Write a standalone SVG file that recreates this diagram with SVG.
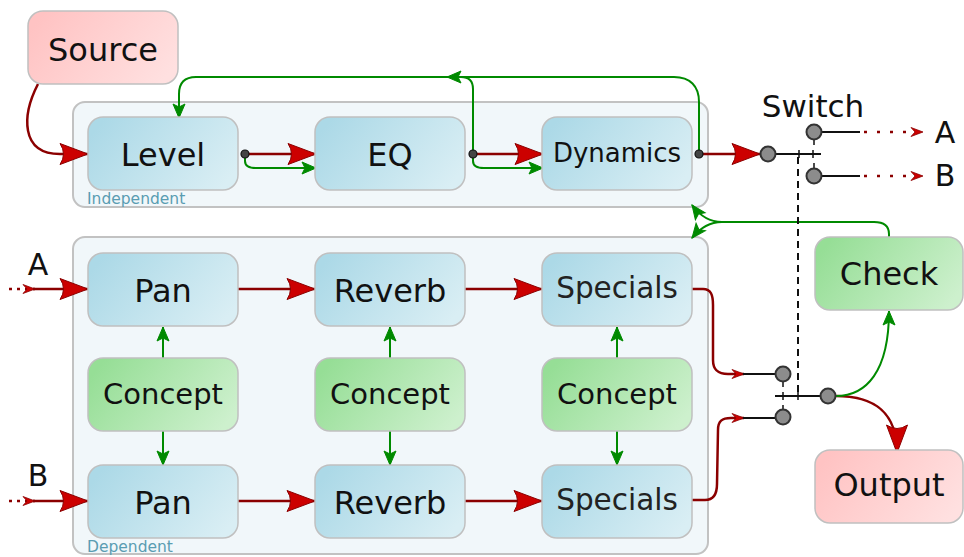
<svg xmlns="http://www.w3.org/2000/svg" width="964" height="557" viewBox="0 0 964 557">
  <defs>
    <linearGradient id="gBlue" x1="0" y1="0.3" x2="1" y2="0.7">
      <stop offset="0" stop-color="#acd9e7"/>
      <stop offset="1" stop-color="#d9eef4"/>
    </linearGradient>
    <linearGradient id="gGreen" x1="0" y1="0.3" x2="1" y2="0.7">
      <stop offset="0" stop-color="#96de96"/>
      <stop offset="1" stop-color="#cdf0cd"/>
    </linearGradient>
    <linearGradient id="gPink" x1="0" y1="0.3" x2="1" y2="0.7">
      <stop offset="0" stop-color="#ffc3c3"/>
      <stop offset="1" stop-color="#ffe0e0"/>
    </linearGradient>
    <marker id="bigRed" markerUnits="userSpaceOnUse" viewBox="-30 -12 32 24" markerWidth="32" markerHeight="24" refX="0" refY="0" orient="auto">
      <path d="M0,0 L-28,-10.5 Q-21,0 -28,10.5 Z" fill="#cc0000" stroke="#8b0000" stroke-width="1"/>
    </marker>
    <marker id="smallRed" markerUnits="userSpaceOnUse" viewBox="-14 -6 16 12" markerWidth="16" markerHeight="12" refX="0" refY="0" orient="auto">
      <path d="M0,0 L-12,-4.5 L-8,0 L-12,4.5 Z" fill="#cc0000" stroke="#8b0000" stroke-width="0.8"/>
    </marker>
    <marker id="green" markerUnits="userSpaceOnUse" viewBox="-16 -8 18 16" markerWidth="18" markerHeight="16" refX="0" refY="0" orient="auto">
      <path d="M0,0 L-14,-6 L-11,0 L-14,6 Z" fill="#008a00" stroke="#008a00" stroke-width="1"/>
    </marker>
  </defs>
  <style>
    .cont { fill: #f1f7fa; stroke: #c2c2c2; stroke-width: 2; }
    .node rect { stroke: #c0c0c0; stroke-width: 1.5; }
    .blue rect { fill: url(#gBlue); }
    .grn rect { fill: url(#gGreen); }
    .pink rect { fill: url(#gPink); }
    text { font-family: "DejaVu Sans", Verdana, sans-serif; fill: #111; text-anchor: middle; }
    .lbl { font-size: 32px; }
    .clbl { font-size: 15.5px; fill: #5a9db2; text-anchor: start; }
    .red { fill: none; stroke: #8b0000; stroke-width: 2.5; }
    .grnl { fill: none; stroke: #008a00; stroke-width: 2; }
    .blk { fill: none; stroke: #111; stroke-width: 2; }
    .tick { stroke: #111; stroke-width: 1.5; }
    .pin { fill: #8c8c8c; stroke: #333; stroke-width: 2; }
    .dot { fill: #444; stroke: #111; stroke-width: 1.2; }
  </style>

  <!-- containers -->
  <g id="independent">
    <rect class="cont" x="73" y="102" width="635" height="105" rx="12"/>
    <text class="clbl" x="87" y="204">Independent</text>
  </g>
  <g id="dependent">
    <rect class="cont" x="73" y="237" width="635" height="317" rx="12"/>
    <text class="clbl" x="87" y="552">Dependent</text>
  </g>

  <!-- connectors -->
  <g id="connectors">
    <!-- signal path (red) -->
    <path class="red" d="M38,84 C22,115 20,154 60,154 L88,154" marker-end="url(#bigRed)"/>
    <path class="red" d="M245,154 L316,154" marker-end="url(#bigRed)"/>
    <path class="red" d="M473,154 L543,154" marker-end="url(#bigRed)"/>
    <path class="red" d="M699,154 L760,154" marker-end="url(#bigRed)"/>
    <path class="red" d="M238,289 L315,289" marker-end="url(#bigRed)"/>
    <path class="red" d="M465,289 L542,289" marker-end="url(#bigRed)"/>
    <path class="red" d="M238,501 L315,501" marker-end="url(#bigRed)"/>
    <path class="red" d="M465,501 L542,501" marker-end="url(#bigRed)"/>

    <!-- inputs A / B -->
    <path class="red" d="M9,289 L35,289" stroke-dasharray="3 5" marker-end="url(#smallRed)"/>
    <path class="red" d="M33,289 L88,289" marker-end="url(#bigRed)"/>
    <path class="red" d="M9,501 L35,501" stroke-dasharray="3 5" marker-end="url(#smallRed)"/>
    <path class="red" d="M33,501 L88,501" marker-end="url(#bigRed)"/>

    <!-- switch outputs A / B -->
    <path class="blk" d="M814,132 L860,132"/>
    <path class="blk" d="M814,176 L860,176"/>
    <path class="red" d="M864,132 L923,132" stroke-dasharray="3 10" marker-end="url(#smallRed)"/>
    <path class="red" d="M864,176 L923,176" stroke-dasharray="3 10" marker-end="url(#smallRed)"/>

    <!-- specials into lower switch -->
    <path class="red" d="M692,289 L703,289 C711,289 713,295 713,305 L713,360 C713,370 718,374 728,374 L744,374" marker-end="url(#smallRed)"/>
    <path class="red" d="M692,500 L705,500 C714,500 717,494 717,484 L718,430 C718,421 722,418 731,418 L744,418" marker-end="url(#smallRed)"/>
    <path class="blk" d="M743,374 L783,374"/>
    <path class="blk" d="M743,418 L783,418"/>

    <!-- lower switch out -->
    <path class="red" d="M836,396 C872,396 897,410 897,453" marker-end="url(#bigRed)"/>
    <path class="grnl" d="M836,396 C866,396 889,372 889,311" marker-end="url(#green)"/>

    <!-- control path (green) -->
    <path class="grnl" d="M699,154 L699,102 C699,86 690,77 674,77 L196,77 C185,77 179,83 179,94 L179,118" marker-end="url(#green)"/>
    <path class="grnl" d="M473,154 L473,89 C473,81 469,77 461,77 L447,77" marker-end="url(#green)"/>
    <path class="grnl" d="M245,154 L245,161 C245,166 249,168 256,168 L316,168" marker-end="url(#green)"/>
    <path class="grnl" d="M473,154 L473,161 C473,166 477,168 484,168 L543,168" marker-end="url(#green)"/>
    <path class="grnl" d="M889,237 L889,234 C889,226 884,222 874,222 L722,222 C709,222 700,216 692,205" marker-end="url(#green)"/>
    <path class="grnl" d="M722,222 C709,222 700,228 692,238" marker-end="url(#green)"/>

    <path class="grnl" d="M163,358 L163,327" marker-end="url(#green)"/>
    <path class="grnl" d="M390,358 L390,327" marker-end="url(#green)"/>
    <path class="grnl" d="M617,358 L617,327" marker-end="url(#green)"/>
    <path class="grnl" d="M163,431 L163,465" marker-end="url(#green)"/>
    <path class="grnl" d="M390,431 L390,465" marker-end="url(#green)"/>
    <path class="grnl" d="M617,431 L617,465" marker-end="url(#green)"/>

    <!-- switch linkage -->
    <path d="M798,157 L798,394" fill="none" stroke="#111" stroke-width="2" stroke-dasharray="7 5"/>
  </g>

  <!-- nodes -->
  <g id="source" class="node pink"><rect x="28" y="11" width="150" height="73" rx="15"/><text class="lbl" x="103" y="61">Source</text></g>
  <g id="level" class="node blue"><rect x="88" y="117" width="150" height="73" rx="15"/><text class="lbl" x="163" y="166">Level</text></g>
  <g id="eq" class="node blue"><rect x="315" y="117" width="150" height="73" rx="15"/><text class="lbl" x="390" y="166">EQ</text></g>
  <g id="dynamics" class="node blue"><rect x="542" y="117" width="150" height="73" rx="15"/><text x="617" y="162" style="font-size:26px">Dynamics</text></g>

  <g id="panA" class="node blue"><rect x="88" y="253" width="150" height="73" rx="15"/><text class="lbl" x="163" y="302">Pan</text></g>
  <g id="reverbA" class="node blue"><rect x="315" y="253" width="150" height="73" rx="15"/><text class="lbl" x="390" y="302">Reverb</text></g>
  <g id="specialsA" class="node blue"><rect x="542" y="253" width="150" height="73" rx="15"/><text x="617" y="298" style="font-size:29.5px;fill:#222">Specials</text></g>

  <g id="conceptPan" class="node grn"><rect x="88" y="358" width="150" height="73" rx="15"/><text x="163" y="404" style="font-size:29px">Concept</text></g>
  <g id="conceptReverb" class="node grn"><rect x="315" y="358" width="150" height="73" rx="15"/><text x="390" y="404" style="font-size:29px">Concept</text></g>
  <g id="conceptSpecials" class="node grn"><rect x="542" y="358" width="150" height="73" rx="15"/><text x="617" y="404" style="font-size:29px">Concept</text></g>

  <g id="panB" class="node blue"><rect x="88" y="465" width="150" height="73" rx="15"/><text class="lbl" x="163" y="514">Pan</text></g>
  <g id="reverbB" class="node blue"><rect x="315" y="465" width="150" height="73" rx="15"/><text class="lbl" x="390" y="514">Reverb</text></g>
  <g id="specialsB" class="node blue"><rect x="542" y="465" width="150" height="73" rx="15"/><text x="617" y="510" style="font-size:29.5px;fill:#222">Specials</text></g>

  <g id="check" class="node grn"><rect x="815" y="237" width="148" height="73" rx="15"/><text class="lbl" x="889" y="285">Check</text></g>
  <g id="output" class="node pink"><rect x="815" y="450" width="148" height="73" rx="15"/><text class="lbl" x="889" y="496">Output</text></g>

  <!-- upper switch -->
  <g id="switchTop">
    <text class="lbl" x="813" y="117" style="font-size:31px">Switch</text>
    <path class="blk" d="M768,154 L821,154"/>
    <path class="tick" d="M813,150 L813,158 M799,150 L799,158 M814,139 L814,145 M814,163 L814,169"/>
    <circle class="pin" cx="768" cy="154" r="7.5"/>
    <circle class="pin" cx="814" cy="132" r="7.5"/>
    <circle class="pin" cx="814" cy="176" r="7.5"/>
    <text class="lbl" x="945" y="143" style="font-size:30px">A</text>
    <text class="lbl" x="945" y="186" style="font-size:30px">B</text>
  </g>

  <!-- lower switch -->
  <g id="switchBottom">
    <path class="blk" d="M775,396 L828,396"/>
    <path class="tick" d="M783,392 L783,400 M798,392 L798,400 M783,381 L783,387 M783,405 L783,411"/>
    <circle class="pin" cx="783" cy="374" r="7.5"/>
    <circle class="pin" cx="783" cy="417" r="7.5"/>
    <circle class="pin" cx="828" cy="396" r="7.5"/>
  </g>

  <!-- input labels and branch dots -->
  <text class="lbl" x="38" y="275" style="font-size:30px">A</text>
  <text class="lbl" x="38" y="486" style="font-size:30px">B</text>
  <circle class="dot" cx="245" cy="154" r="4"/>
  <circle class="dot" cx="473" cy="154" r="4"/>
  <circle class="dot" cx="699" cy="154" r="4"/>
</svg>
